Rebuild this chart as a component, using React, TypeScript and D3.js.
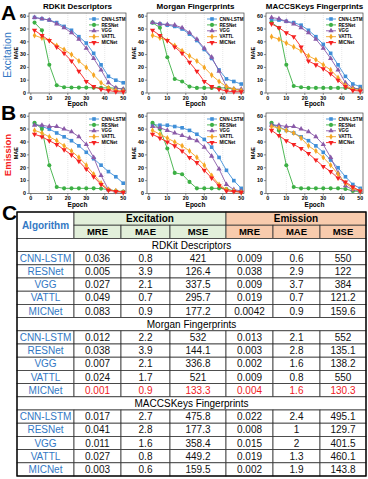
import * as d3 from 'd3';

const W = 368;
const H = 479;
const FONT = "'Liberation Sans', Arial, sans-serif";

// ---- chart data (MAE vs epoch) ----
const epochs = [2, 6, 10, 14, 18, 22, 26, 30, 34, 38, 42, 46, 50];
const models = ['CNN-LSTM', 'RESNet', 'VGG', 'VATTL', 'MICNet'];
const colors = ['#3f8fd8', '#3cb044', '#8a5aa8', '#f5a623', '#f52222'];

// order in each: CNN-LSTM, RESNet, VGG, VATTL, MICNet
const excRdkit = [
  [59, 58, 57, 55, 52, 49, 44, 39, 31, 22, 13, 10, 8],
  [55, 49, 22, 6, 4.5, 4.3, 4.2, 4.2, 4.1, 4, 4, 3.8, 3],
  [59, 58, 57, 54, 51, 47, 42, 35, 27, 18, 8, 4, 3],
  [45, 43, 41, 37, 34, 30, 25, 20, 14, 8, 4, 2, 1.5],
  [49, 45, 41, 36, 31, 25, 17, 9, 5, 3, 2, 1, 1],
];
const excMorgan = [
  [55, 54, 53, 52, 50, 46, 41, 34, 27, 18, 11, 9, 7],
  [55, 51, 28, 11, 9, 5, 4, 4, 4, 4, 4, 3, 2],
  [55, 54, 53.5, 53, 51, 47, 42, 35, 28, 17, 5, 3, 3],
  [45, 43, 41, 37, 33, 29, 25, 20, 14, 9, 5, 3, 2],
  [49, 45, 41, 36, 31, 24, 17, 9, 5, 3, 1.5, 1, 1],
];
const excMaccs = [
  [57, 57, 56, 55, 53, 49, 44, 38, 31, 22, 13, 7, 5],
  [55, 51, 22, 5.5, 4.5, 4, 4, 4, 4, 4, 4, 3.5, 3],
  [59, 58, 56, 54, 51, 47, 42, 35, 27, 18, 8, 4, 3],
  [44, 42, 39, 36, 33, 29, 26, 22, 18, 12, 6, 3, 2],
  [54, 51, 47, 44, 36, 25, 22, 19, 15, 10, 5, 2, 1.5],
];
const emiRdkit = [
  [54, 52, 50, 47, 44, 41, 37, 32, 27, 22, 17, 13, 8],
  [55, 50, 22, 5, 4, 4, 4, 4, 4, 3.8, 3, 2, 1.5],
  [53, 53, 52, 52, 50, 48, 44, 38, 28, 14, 3, 2, 1],
  [49, 47, 44, 41, 37, 33, 28, 22, 15, 8, 3, 2, 1],
  [46, 44, 41, 38, 34, 30, 25, 19, 13, 7, 2.5, 1.5, 1],
];
const emiMorgan = [
  [53.5, 53, 53, 52, 51, 49, 46, 42, 36, 28, 18, 10, 4],
  [55, 50, 35, 16, 15, 9, 4, 4, 4, 4, 3.5, 2, 1.5],
  [52, 51, 49, 47, 45, 43, 41, 36, 29, 19, 7, 3, 2],
  [49, 46, 43, 40, 37, 33, 28, 22, 14, 7, 3, 2, 1],
  [46, 43, 40, 37, 33, 28, 24, 18, 12, 6, 2, 1.5, 1],
];
const emiMaccs = [
  [54, 52, 49, 47, 44, 41, 37, 32, 26, 20, 13, 7, 4],
  [55, 49, 22, 5, 4, 4, 4, 4, 4, 4, 3.5, 2, 1.5],
  [53, 53, 52, 52, 50, 48, 44, 38, 28, 16, 6, 3, 2],
  [52, 51, 49, 47, 43, 37, 33, 28, 22, 15, 8, 4, 2],
  [49, 45, 41, 38, 35, 31, 26, 21, 17, 12, 9, 5, 2],
];
const panelTitles = ['RDKit Descriptors', 'Morgan Fingerprints', 'MACCSKeys Fingerprints'];
const xTicks = [0, 10, 20, 30, 40, 50];
const yTicks = [0, 10, 20, 30, 40, 50, 60];

// ---- table data ----
const tableHeads = ['MRE', 'MAE', 'MSE'];
const rdkitRows = [
  ['0.036', '0.8', '421', '0.009', '0.6', '550'],
  ['0.005', '3.9', '126.4', '0.038', '2.9', '122'],
  ['0.027', '2.1', '337.5', '0.009', '3.7', '384'],
  ['0.049', '0.7', '295.7', '0.019', '0.7', '121.2'],
  ['0.083', '0.9', '177.2', '0.0042', '0.9', '159.6'],
];
const morganRows = [
  ['0.012', '2.2', '532', '0.013', '2.1', '552'],
  ['0.038', '3.9', '144.1', '0.003', '2.8', '135.1'],
  ['0.007', '2.1', '336.8', '0.002', '1.6', '138.2'],
  ['0.024', '1.7', '521', '0.009', '0.8', '550'],
  ['0.001', '0.9', '133.3', '0.004', '1.6', '130.3'],
];
const maccsRows = [
  ['0.017', '2.7', '475.8', '0.022', '2.4', '495.1'],
  ['0.041', '2.8', '177.3', '0.008', '1', '129.7'],
  ['0.011', '1.6', '358.4', '0.015', '2', '401.5'],
  ['0.027', '0.8', '449.2', '0.019', '1.3', '460.1'],
  ['0.003', '0.6', '159.5', '0.002', '1.9', '143.8'],
];

const symbolFor = (i: number) => {
  const types = [d3.symbolSquare, d3.symbolCircle, d3.symbolTriangle, d3.symbolDiamond, d3.symbolTriangle];
  const sizes = [13, 13, 12, 11, 12];
  return d3.symbol().type(types[i]).size(sizes[i])();
};

function Panel({ left, top, bottom, series, title }: any) {
  const width = 97;
  const x = d3.scaleLinear().domain([-1, 51.5]).range([left, left + width]);
  const y = d3.scaleLinear().domain([0, 62.5]).range([bottom, top]);
  const line = d3.line<number>().x((_, i) => x(epochs[i])).y((d) => y(d));
  const cx = left + width / 2;
  const right = left + width;

  return (
    <g>
      {title && (
        <text x={cx} y={9} textAnchor="middle" fontSize={8} fontWeight="bold" fontFamily={FONT}>{title}</text>
      )}
      {xTicks.slice(1, -1).map((t) => (
        <line key={'g' + t} x1={x(t)} x2={x(t)} y1={top} y2={bottom} stroke="#cfcfcf" strokeWidth={0.5} strokeDasharray="1,1" />
      ))}
      <rect x={left} y={top} width={width} height={bottom - top} fill="none" stroke="#444" strokeWidth={0.7} />
      {yTicks.map((t) => (
        <g key={'y' + t}>
          <line x1={left - 2} x2={left} y1={y(t)} y2={y(t)} stroke="#444" strokeWidth={0.6} />
          <text x={left - 3} y={y(t)} dy="0.35em" textAnchor="end" fontSize={5.3} fontWeight="bold" fontFamily={FONT}>{t}</text>
        </g>
      ))}
      {xTicks.map((t) => (
        <g key={'x' + t}>
          <line x1={x(t)} x2={x(t)} y1={bottom} y2={bottom + 2} stroke="#444" strokeWidth={0.6} />
          <text x={x(t)} y={bottom + 6.5} textAnchor="middle" fontSize={5.3} fontWeight="bold" fontFamily={FONT}>{t}</text>
        </g>
      ))}
      <text x={cx} y={bottom + 13} textAnchor="middle" fontSize={6.5} fontWeight="bold" fontFamily={FONT}>Epoch</text>
      <text transform={`translate(${left - 11},${(top + bottom) / 2}) rotate(-90)`} textAnchor="middle" fontSize={5.5} fontWeight="bold" fontFamily={FONT}>MAE</text>
      {series.map((vals: number[], i: number) => (
        <g key={'s' + i}>
          <path d={line(vals) || ''} fill="none" stroke={colors[i]} strokeWidth={0.9} />
          {vals.map((v, j) => (
            <path key={j} d={symbolFor(i)} fill={colors[i]}
              transform={`translate(${x(epochs[j])},${y(v)})${i === 4 ? ' rotate(180)' : ''}`} />
          ))}
        </g>
      ))}
      {models.map((m, i) => {
        const ly = top + 6 + i * 5.9;
        return (
          <g key={'l' + i}>
            <line x1={right - 37} x2={right - 27} y1={ly} y2={ly} stroke={colors[i]} strokeWidth={0.9} />
            <path d={symbolFor(i)} fill={colors[i]} transform={`translate(${right - 32},${ly})${i === 4 ? ' rotate(180)' : ''}`} />
            <text x={right - 24.5} y={ly} dy="0.35em" fontSize={4.6} fontWeight="bold" fontFamily={FONT}>{m}</text>
          </g>
        );
      })}
    </g>
  );
}

function Table() {
  const cols = [17, 74, 121, 170, 226, 273, 320, 366];
  const top = 212;
  const rowH = 13.2;
  const blue = '#3378c4';
  const cellMid = (c: number) => (cols[c] + cols[c + 1]) / 2;
  const sections = [
    { name: 'RDKit Descriptors', rows: rdkitRows },
    { name: 'Morgan Fingerprints', rows: morganRows },
    { name: 'MACCSKeys Fingerprints', rows: maccsRows },
  ];
  const els: any[] = [];
  const stroke = '#333';
  // header
  els.push(<rect key="h-alg" x={cols[0]} y={top} width={cols[1] - cols[0]} height={rowH * 2} fill="#fff" stroke={stroke} strokeWidth={0.8} />);
  els.push(<text key="h-algt" x={cellMid(0)} y={top + rowH} dy="0.35em" textAnchor="middle" fontSize={10} fontWeight="bold" fill={blue} fontFamily={FONT}>Algorithm</text>);
  els.push(<rect key="h-exc" x={cols[1]} y={top} width={cols[4] - cols[1]} height={rowH} fill="#e2efda" stroke={stroke} strokeWidth={0.8} />);
  els.push(<text key="h-exct" x={(cols[1] + cols[4]) / 2} y={top + rowH / 2} dy="0.36em" textAnchor="middle" fontSize={10} fontWeight="bold" fontFamily={FONT}>Excitation</text>);
  els.push(<rect key="h-emi" x={cols[4]} y={top} width={cols[7] - cols[4]} height={rowH} fill="#f8cbad" stroke={stroke} strokeWidth={0.8} />);
  els.push(<text key="h-emit" x={(cols[4] + cols[7]) / 2} y={top + rowH / 2} dy="0.36em" textAnchor="middle" fontSize={10} fontWeight="bold" fontFamily={FONT}>Emission</text>);
  for (let c = 1; c < 7; c++) {
    els.push(<rect key={'sh' + c} x={cols[c]} y={top + rowH} width={cols[c + 1] - cols[c]} height={rowH} fill={c < 4 ? '#e2efda' : '#f8cbad'} stroke={stroke} strokeWidth={0.8} />);
    els.push(<text key={'sht' + c} x={cellMid(c)} y={top + rowH * 1.5} dy="0.36em" textAnchor="middle" fontSize={9.5} fontWeight="bold" fontFamily={FONT}>{tableHeads[(c - 1) % 3]}</text>);
  }
  let r = 2;
  sections.forEach((s, si) => {
    const sy = top + r * rowH;
    els.push(<rect key={'sec' + si} x={cols[0]} y={sy} width={cols[7] - cols[0]} height={rowH} fill="#fff" stroke={stroke} strokeWidth={0.8} />);
    els.push(<text key={'sect' + si} x={(cols[0] + cols[7]) / 2} y={sy + rowH / 2} dy="0.36em" textAnchor="middle" fontSize={10} fontFamily={FONT}>{s.name}</text>);
    r++;
    s.rows.forEach((row, ri) => {
      const ry = top + r * rowH;
      const hl = si === 1 && ri === 4;
      els.push(<rect key={`r${si}-${ri}-0`} x={cols[0]} y={ry} width={cols[1] - cols[0]} height={rowH} fill="#fff" stroke={stroke} strokeWidth={0.8} />);
      els.push(<text key={`t${si}-${ri}-0`} x={cellMid(0)} y={ry + rowH / 2} dy="0.36em" textAnchor="middle" fontSize={10} fill={blue} fontFamily={FONT}>{models[ri]}</text>);
      row.forEach((v, ci) => {
        els.push(<rect key={`r${si}-${ri}-${ci + 1}`} x={cols[ci + 1]} y={ry} width={cols[ci + 2] - cols[ci + 1]} height={rowH} fill="#fff" stroke={stroke} strokeWidth={0.8} />);
        els.push(<text key={`t${si}-${ri}-${ci + 1}`} x={cellMid(ci + 1)} y={ry + rowH / 2} dy="0.36em" textAnchor="middle" fontSize={10} fill={hl ? '#f0201c' : '#111'} fontFamily={FONT}>{v}</text>);
      });
      r++;
    });
  });
  els.push(<rect key="outer" x={cols[0]} y={top} width={cols[7] - cols[0]} height={r * rowH} fill="none" stroke="#000" strokeWidth={1.3} />);
  return <g>{els}</g>;
}

export default function App() {
  const lefts = [29, 147, 266];
  const rowA = excRdkit && [excRdkit, excMorgan, excMaccs];
  const rowB = [emiRdkit, emiMorgan, emiMaccs];
  return (
    <svg width={W} height={H} style={{ position: 'absolute', left: 0, top: 0, background: '#fff' }}>
      <rect width={W} height={H} fill="#fff" />
      <text x={1} y={20} fontSize={21} fontWeight="bold" fontFamily={FONT}>A</text>
      <text x={1} y={120} fontSize={21} fontWeight="bold" fontFamily={FONT}>B</text>
      <text x={2} y={220} fontSize={21} fontWeight="bold" fontFamily={FONT}>C</text>
      <text transform="translate(11,55) rotate(-90)" textAnchor="middle" fontSize={10.5} fill="#3378c4" fontFamily={FONT}>Excitation</text>
      <text transform="translate(11,155) rotate(-90)" textAnchor="middle" fontSize={9.5} fontWeight="bold" fill="#f52222" fontFamily={FONT}>Emission</text>
      {rowA.map((s, i) => (
        <Panel key={'a' + i} left={lefts[i]} top={13} bottom={93} series={s} title={panelTitles[i]} />
      ))}
      {rowB.map((s, i) => (
        <Panel key={'b' + i} left={lefts[i]} top={113} bottom={193.5} series={s} />
      ))}
      <Table />
    </svg>
  );
}
